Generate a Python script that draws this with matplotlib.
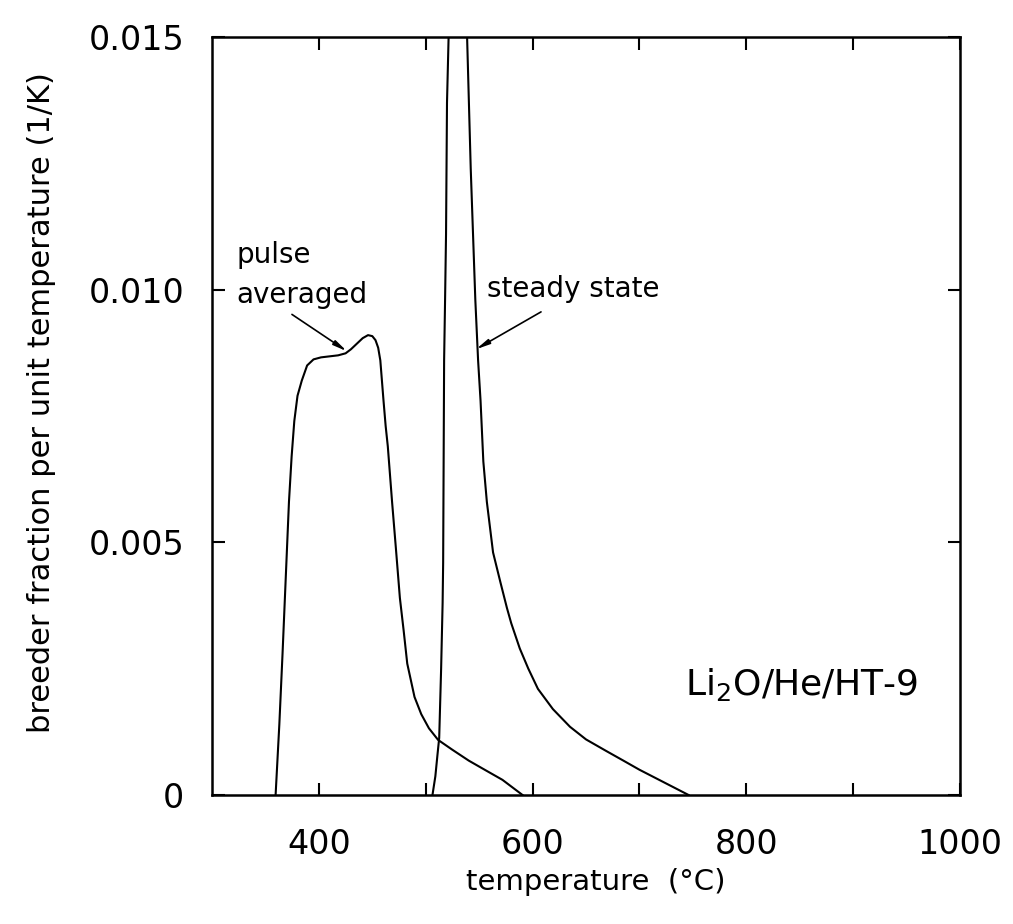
import matplotlib
matplotlib.use('Agg')
import matplotlib.pyplot as plt

# pulse averaged curve (temperature in C, breeder fraction per K)
pulse_T = [359.5, 363, 366, 369, 372, 374.5, 377, 380, 384, 389, 395, 402, 410,
           418, 425, 430, 436, 441, 446, 450, 453, 455.5, 457.5, 459, 460.5,
           462.5, 464.5, 468.5, 472, 475.8, 479.3, 482.7, 489.5, 495.8, 503,
           511.6, 524.6, 540.3, 556, 571.8, 590.6]
pulse_v = [0, 0.0014, 0.0028, 0.0043, 0.0058, 0.0067, 0.0074, 0.0079, 0.0082,
           0.0085, 0.00862, 0.00866, 0.00868, 0.0087, 0.00874, 0.00882, 0.00894,
           0.00904, 0.0091, 0.00908, 0.009, 0.00885, 0.0086, 0.0082, 0.0078,
           0.0073, 0.0069, 0.0058, 0.0049, 0.0039, 0.00326, 0.0026, 0.00194,
           0.0016, 0.00132, 0.00109, 0.0009, 0.00068, 0.00049, 0.0003, 0]

# steady state curve (peak runs off the top of the scale)
steady_T = [506.3, 509, 511, 512.6, 514.4, 515.8, 516.3, 517.2, 518.1, 519,
            519.9, 521.4, 530, 538.7, 542.1, 546.4, 549, 551.3, 553.9, 557.2,
            563, 570, 576, 580, 588, 596, 605, 619, 635, 650, 669, 685, 700,
            723, 746]
steady_v = [0, 0.00037, 0.0008, 0.00113, 0.0025, 0.0038, 0.0046, 0.0086,
            0.0098, 0.0111, 0.0137, 0.015, 0.0195, 0.015, 0.0124, 0.0098,
            0.0086, 0.0078, 0.0066, 0.0058, 0.0048, 0.0042, 0.0037, 0.0034,
            0.0029, 0.0025, 0.0021, 0.0017, 0.00135, 0.0011, 0.00087, 0.00068,
            0.0005, 0.00025, 0]

x_major = [400, 600, 800, 1000]
x_minor = [500, 700, 900]
y_ticks = [0, 0.005, 0.010, 0.015]
y_ticklabels = ['0', '0.005', '0.010', '0.015']

plt.rcParams['font.family'] = ['DejaVu Sans']
plt.rcParams['mathtext.default'] = 'regular'

fig = plt.figure(figsize=(10.13, 9.24), dpi=100)
ax = fig.add_axes([0.2093, 0.1396, 0.7384, 0.8204])

ax.plot(pulse_T, pulse_v, color='black', lw=1.5)
ax.plot(steady_T, steady_v, color='black', lw=1.5)

ax.set_xlim(300, 1000)
ax.set_ylim(0, 0.015)
ax.set_xticks(x_major)
ax.set_xticks(x_minor, minor=True)
ax.set_yticks(y_ticks)
ax.set_yticklabels(y_ticklabels)

ax.tick_params(which='both', direction='in', length=9, width=1.5,
               top=True, right=True)
ax.tick_params(axis='x', labelsize=24, pad=24)
ax.tick_params(axis='y', labelsize=24, pad=20)
for sp in ax.spines.values():
    sp.set_linewidth(1.8)

ax.set_ylabel('breeder fraction per unit temperature (1/K)', fontsize=22)
ax.yaxis.set_label_coords(-0.208, 0.518)
ax.set_xlabel('temperature  (°C)', fontsize=21)
ax.xaxis.set_label_coords(0.513, -0.096)

# annotations
ax.text(322.5, 0.01053, 'pulse', fontsize=20, ha='left', va='baseline')
ax.text(322.5, 0.00973, 'averaged', fontsize=20, ha='left', va='baseline')
ax.annotate('', xy=(426.3, 0.00878), xytext=(374.8, 0.00951),
            arrowprops=dict(arrowstyle='-|>,head_length=0.8,head_width=0.15',
                            color='black', lw=1.2, shrinkA=0, shrinkB=0))
ax.text(557.7, 0.00985, 'steady state', fontsize=20, ha='left', va='baseline')
ax.annotate('', xy=(547, 0.00882), xytext=(607.9, 0.00956),
            arrowprops=dict(arrowstyle='-|>,head_length=0.8,head_width=0.15',
                            color='black', lw=1.2, shrinkA=0, shrinkB=0))
ax.text(742.4, 0.00197, r'Li$_2$O/He/HT-9', fontsize=26, ha='left', va='baseline')

fig.savefig('out.png', dpi=100)
